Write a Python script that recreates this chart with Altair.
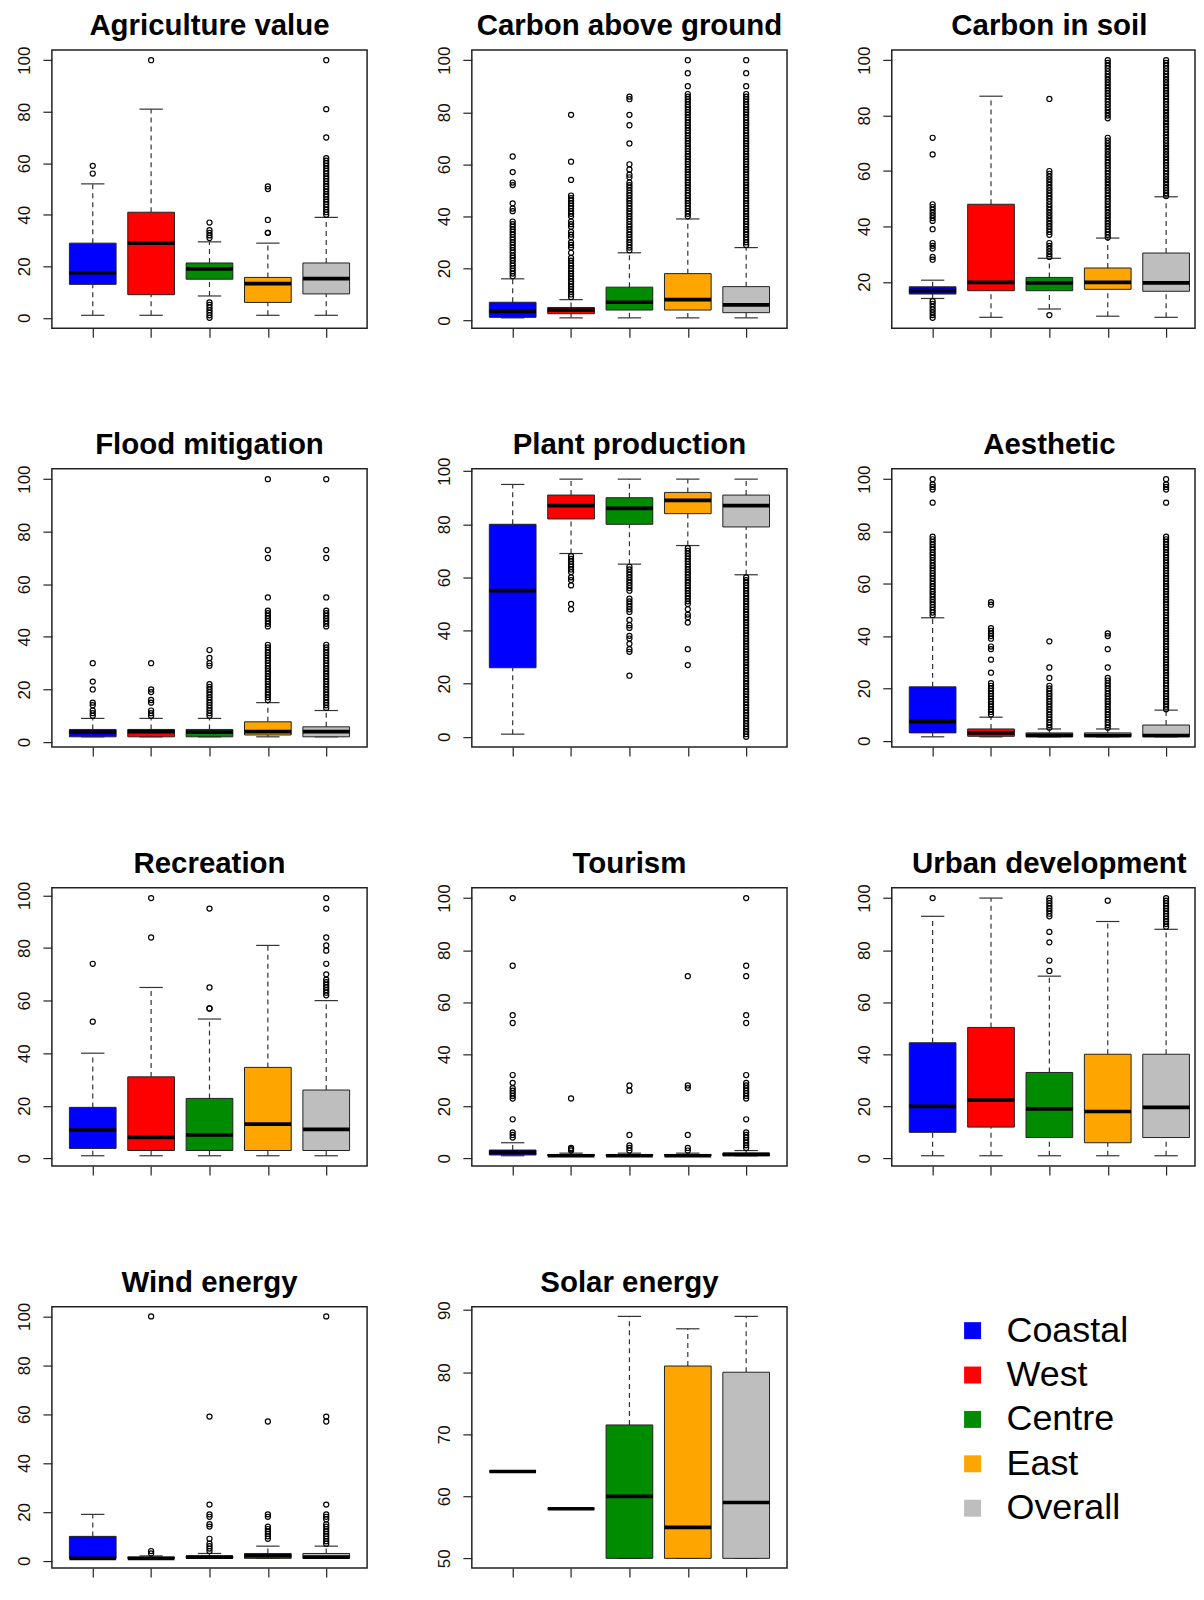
import altair as alt
import pandas as pd

REGIONS = ["Coastal", "West", "Centre", "East", "Overall"]
COLORS = ["#0000FF", "#FF0000", "#008B00", "#FFA500", "#BEBEBE"]

TICKS_0_100 = [0, 20, 40, 60, 80, 100]
TICKS_SOIL = [20, 40, 60, 80, 100]
TICKS_SOLAR = [50, 60, 70, 80, 90]

# stats per region: (lower whisker, Q1, median, Q3, upper whisker)
AGRI_STATS = [(1, 13, 17.5, 29, 52), (1, 9, 29, 41, 81), (8.5, 15, 19, 21.3, 29.5),
              (1, 6, 13.3, 15.7, 29), (1, 9.3, 15.2, 21.3, 39)]
AGRI_OUT = [[56, 59], [100], [0, 1, 2, 3, 4, 5, 6, 31, 32, 33, 34, 37], [33, 33, 38, 50, 51],
            [40, 41, 42, 43, 44, 45, 46, 47, 48, 49, 50, 51, 52, 53, 54, 55, 56, 57, 58, 59, 60, 61, 62, 70, 81, 100]]

CAG_STATS = [(1, 1.2, 3.5, 7, 16), (1, 2.6, 4, 5, 8), (1, 4, 7, 12.8, 26),
             (1, 4, 8, 18, 39), (1, 3, 6, 13, 28)]
CAG_OUT = [
    [17, 18, 19, 20, 21, 22, 23, 24, 25, 26, 27, 28, 29, 30, 31, 32, 33, 34, 35, 36, 37, 38, 42, 43, 45, 52, 53, 57, 63],
    [9, 10, 11, 12, 13, 14, 15, 16, 17, 18, 19, 20, 21, 22, 23, 24, 26, 28, 29, 30, 32, 33, 34, 36, 37, 38, 40,
     41, 42, 43, 44, 45, 46, 47, 48, 54, 61, 79],
    [27, 28, 29, 30, 31, 32, 33, 34, 35, 36, 37, 38, 39, 40, 41, 42, 43, 44, 45, 46, 47, 48, 49, 50, 51, 52, 53,
     55, 56, 58, 60, 68, 75, 79, 85, 86],
    [40, 41, 42, 43, 44, 45, 46, 47, 48, 49, 50, 51, 52, 53, 54, 55, 56, 57, 58, 59, 60, 61, 62, 63, 64, 65, 66,
     67, 68, 69, 70, 71, 72, 73, 74, 75, 76, 77, 78, 79, 80, 81, 82, 83, 84, 85, 86, 87, 90, 95, 100],
    [29, 30, 31, 32, 33, 34, 35, 36, 37, 38, 39, 40, 41, 42, 43, 44, 45, 46, 47, 48, 49, 50, 51, 52, 53, 54, 55,
     56, 57, 58, 59, 60, 61, 62, 63, 64, 65, 66, 67, 68, 69, 70, 71, 72, 73, 74, 75, 76, 77, 78, 79, 80, 81, 82,
     83, 84, 85, 86, 87, 90, 95, 100],
]

CIS_STATS = [(14, 15.6, 16.8, 18.2, 20.6), (7.2, 16.8, 19.8, 48, 87), (10.2, 16.8, 19.6, 21.6, 28.5),
             (7.6, 17.3, 19.8, 25, 35.8), (7.2, 16.6, 19.6, 30.4, 50.7)]
CIS_OUT = [
    [7, 8, 9, 10, 11, 12, 13, 28, 29, 32, 33, 34, 39, 42, 43, 44, 45, 46, 47, 48, 66, 72],
    [],
    [8, 29, 30, 31, 32, 33, 34, 37, 38, 39, 40, 41, 42, 43, 44, 45, 46, 47, 48, 49, 50, 51, 52, 53, 54, 55, 56,
     57, 58, 59, 60, 86],
    [36, 37, 38, 39, 40, 41, 42, 43, 44, 45, 46, 47, 48, 49, 50, 51, 52, 53, 54, 55, 56, 57, 58, 59, 60, 61, 62,
     63, 64, 65, 66, 67, 68, 69, 70, 71, 72, 79, 80, 81, 82, 83, 84, 85, 86, 87, 88, 89, 90, 91, 92, 93, 94, 95,
     96, 97, 98, 99, 100],
    [51, 52, 53, 54, 55, 56, 57, 58, 59, 60, 61, 62, 63, 64, 65, 66, 67, 68, 69, 70, 71, 72, 73, 74, 75, 76, 77,
     78, 79, 80, 81, 82, 83, 84, 85, 86, 87, 88, 89, 90, 91, 92, 93, 94, 95, 96, 97, 98, 99, 100],
]

FLOOD_STATS = [(2, 2, 3.8, 4.8, 9), (2, 2, 4, 4.8, 9), (2, 2, 3.8, 4.8, 9),
               (2, 2.7, 4, 7.7, 15), (2, 2, 4, 5.8, 12)]
FLOOD_OUT = [
    [10, 11, 12, 14, 15, 20, 23, 30],
    [10, 11, 12, 15, 16, 19, 20, 30],
    [10, 11, 12, 13, 14, 15, 16, 17, 18, 19, 20, 21, 22, 29, 30, 32, 35],
    [16, 17, 18, 19, 20, 21, 22, 23, 24, 25, 26, 27, 28, 29, 30, 31, 32, 33, 34, 35, 36, 37, 44, 45, 46, 47, 48,
     49, 50, 55, 70, 73, 100],
    [13, 14, 15, 16, 17, 18, 19, 20, 21, 22, 23, 24, 25, 26, 27, 28, 29, 30, 31, 32, 33, 34, 35, 36, 37, 44, 45,
     46, 47, 48, 49, 50, 55, 70, 73, 100],
]

PLANT_STATS = [(1, 26, 55, 80, 95), (69, 82, 87, 91, 97), (65, 80, 86, 90, 97),
               (72, 84, 89, 92, 97), (61, 79, 87, 91, 97)]
PLANT_OUT = [
    [],
    [48, 50, 57, 59, 60, 62, 63, 64, 65, 66, 67, 68],
    [23, 32, 33, 35, 37, 38, 41, 42, 44, 47, 48, 49, 50, 51, 52, 55, 56, 57, 58, 59, 60, 61, 62, 63, 64],
    [27, 33, 43, 45, 46, 48, 50, 51, 52, 53, 54, 55, 56, 57, 58, 59, 60, 61, 62, 63, 64, 65, 66, 67, 68, 69, 70, 71],
    [0, 1, 2, 3, 4, 5, 6, 7, 8, 9, 10, 11, 12, 13, 14, 15, 16, 17, 18, 19, 20, 21, 22, 23, 24, 25, 26, 27, 28,
     29, 30, 31, 32, 33, 34, 35, 36, 37, 38, 39, 40, 41, 42, 43, 44, 45, 46, 47, 48, 49, 50, 51, 52, 53, 54, 55,
     56, 57, 58, 59, 60],
]

AES_STATS = [(1.5, 3, 7.3, 20.6, 47), (1.5, 1.7, 3, 4.5, 9), (1.5, 1.5, 2, 3, 4.5),
             (1.5, 1.5, 2, 3, 4.5), (1.5, 1.5, 2, 6, 11.7)]
AES_OUT = [
    [48, 49, 50, 51, 52, 53, 54, 55, 56, 57, 58, 59, 60, 61, 62, 63, 64, 65, 66, 67, 68, 69, 70, 71, 72, 73, 74,
     75, 76, 77, 78, 91, 96, 97, 98, 100],
    [10, 11, 12, 13, 14, 15, 16, 17, 18, 19, 20, 21, 22, 26, 31, 35, 36, 39, 40, 41, 42, 43, 52, 53],
    [5, 6, 7, 8, 9, 10, 11, 12, 13, 14, 15, 16, 17, 18, 19, 20, 21, 24, 28, 38],
    [5, 6, 7, 8, 9, 10, 11, 12, 13, 14, 15, 16, 17, 18, 19, 20, 21, 22, 23, 24, 28, 35, 40, 41],
    [12, 13, 14, 15, 16, 17, 18, 19, 20, 21, 22, 23, 24, 25, 26, 27, 28, 29, 30, 31, 32, 33, 34, 35, 36, 37, 38,
     39, 40, 41, 42, 43, 44, 45, 46, 47, 48, 49, 50, 51, 52, 53, 54, 55, 56, 57, 58, 59, 60, 61, 62, 63, 64, 65,
     66, 67, 68, 69, 70, 71, 72, 73, 74, 75, 76, 77, 78, 91, 96, 97, 98, 100],
]

REC_STATS = [(1, 3.8, 10.8, 19.4, 40), (1, 3, 8, 31, 65), (1, 3, 8.9, 22.8, 53),
             (1, 3, 13, 34.6, 81), (1, 3, 11, 26, 60)]
REC_OUT = [[52, 74], [84, 99], [57, 57, 65, 95], [],
           [62, 63, 64, 65, 66, 67, 68, 70, 74, 79, 81, 84, 95, 99]]

TOUR_STATS = [(1, 1.3, 2.3, 3.2, 6), (1, 1, 1, 1.5, 2), (1, 1, 1, 1.5, 2),
              (1, 1, 1, 1.5, 2), (1, 1, 1.5, 2, 3)]
TOUR_OUT = [
    [8, 9, 10, 15, 23, 24, 25, 26, 27, 29, 32, 52, 55, 74, 100],
    [3, 3.5, 4, 23],
    [3, 4, 5, 9, 26, 28],
    [3, 4, 9, 27, 28, 70],
    [4, 5, 6, 7, 8, 9, 10, 15, 23, 24, 25, 26, 27, 28, 29, 32, 52, 55, 70, 74, 100],
]

URB_STATS = [(1, 10, 20, 44.4, 93), (1, 12, 22.4, 50.3, 100), (1, 8, 19, 33, 70),
             (1, 6, 18, 40, 91), (1, 8, 19.6, 40, 88)]
URB_OUT = [[100], [], [72, 76, 83, 87, 93, 94, 95, 96, 97, 98, 99, 100], [99],
           [89, 90, 91, 92, 93, 94, 95, 96, 97, 98, 99, 100]]

WIND_STATS = [(1, 1, 1, 10, 19), (1, 1, 1, 1.5, 2), (1, 1, 1.5, 2, 3),
              (1, 1, 2, 3, 6), (1, 1, 1.5, 3, 6)]
WIND_OUT = [[], [3, 4, 100], [4, 5, 6, 7, 9, 14, 15, 18, 19, 23, 59],
            [9, 10, 11, 12, 13, 14, 18, 19, 57],
            [7, 8, 9, 10, 11, 12, 13, 14, 15, 17, 18, 19, 23, 57, 59, 100]]

SOLAR_STATS = [(64, 64, 64, 64, 64), (58, 58, 58, 58, 58), (50, 50, 60, 71.5, 89),
               (50, 50, 55, 81, 87), (50, 50, 59, 80, 89)]
SOLAR_OUT = [[], [], [], [], []]

PANELS = [
    ("Agriculture value", AGRI_STATS, AGRI_OUT, TICKS_0_100),
    ("Carbon above ground", CAG_STATS, CAG_OUT, TICKS_0_100),
    ("Carbon in soil", CIS_STATS, CIS_OUT, TICKS_SOIL),
    ("Flood mitigation", FLOOD_STATS, FLOOD_OUT, TICKS_0_100),
    ("Plant production", PLANT_STATS, PLANT_OUT, TICKS_0_100),
    ("Aesthetic", AES_STATS, AES_OUT, TICKS_0_100),
    ("Recreation", REC_STATS, REC_OUT, TICKS_0_100),
    ("Tourism", TOUR_STATS, TOUR_OUT, TICKS_0_100),
    ("Urban development", URB_STATS, URB_OUT, TICKS_0_100),
    ("Wind energy", WIND_STATS, WIND_OUT, TICKS_0_100),
    ("Solar energy", SOLAR_STATS, SOLAR_OUT, TICKS_SOLAR),
]

W = 316               # full panel plot width
H = 279               # panel plot height
H_LAST = 262          # last row, trimmed so the page is not taller than the window
W_RIGHT = 304         # right column is cut by the page edge, like the original picture
X_LO, X_HI = 0.3, 5.7
FONT = "Liberation Sans"
color_scale = alt.Scale(domain=REGIONS, range=COLORS)


def make_panel(title, stats, outs, ticks, col, height):
    width = W if col < 2 else W_RIGHT
    x_hi = X_LO + (X_HI - X_LO) * width / W
    srows = []
    for i, (reg, st) in enumerate(zip(REGIONS, stats)):
        lo, q1, med, q3, hi = st
        srows.append(dict(region=reg, pos=i + 1, lo=lo, q1=q1, med=med, q3=q3, hi=hi))
    sdf = pd.DataFrame(srows)
    orows = [dict(region=REGIONS[i], pos=i + 1, v=v) for i, lst in enumerate(outs) for v in lst]
    odf = pd.DataFrame(orows, columns=["region", "pos", "v"])

    vals = [s[0] for s in stats] + [s[4] for s in stats] + [v for lst in outs for v in lst]
    vmin, vmax = min(vals), max(vals)
    ext = 0.04 * (vmax - vmin)
    yscale = alt.Scale(domain=[vmin - ext, vmax + ext], nice=False, zero=False)
    xscale = alt.Scale(domain=[X_LO, x_hi], nice=False, zero=False)
    xaxis = alt.Axis(values=[1, 2, 3, 4, 5], labels=False, tickSize=9, domain=False, grid=False,
                     title=None, tickColor="#222", tickWidth=1.2)
    yaxis = alt.Axis(values=ticks, labelAngle=270, labelAlign="center", labelBaseline="alphabetic",
                     labelPadding=13, labelFontSize=17, labelFont=FONT, labelColor="#111",
                     tickSize=9, tickColor="#222", tickWidth=1.2, domain=False, grid=False, title=None)

    def X(f):
        return alt.X(f"{f}:Q", scale=xscale, axis=xaxis)

    def Y(f):
        return alt.Y(f"{f}:Q", scale=yscale, axis=yaxis)

    base = alt.Chart(sdf).transform_calculate(
        xl="datum.pos - 0.4", xr="datum.pos + 0.4", cl="datum.pos - 0.2", cr="datum.pos + 0.2")

    whisk_up = base.mark_rule(color="#333", strokeWidth=1.2, strokeDash=[5, 4]).encode(
        x=X("pos"), y=Y("q3"), y2="hi")
    whisk_lo = base.mark_rule(color="#333", strokeWidth=1.2, strokeDash=[5, 4]).encode(
        x=X("pos"), y=Y("lo"), y2="q1")
    cap_hi = base.mark_rule(color="#333", strokeWidth=1.2).encode(x=X("cl"), x2="cr", y=Y("hi"))
    cap_lo = base.mark_rule(color="#333", strokeWidth=1.2).encode(x=X("cl"), x2="cr", y=Y("lo"))
    box = base.mark_rect(stroke="#222", strokeWidth=1, opacity=1).encode(
        x=X("xl"), x2="xr", y=Y("q1"), y2="q3",
        color=alt.Color("region:N", scale=color_scale, legend=None))
    med = base.mark_rule(color="black", strokeWidth=3.7).encode(x=X("xl"), x2="xr", y=Y("med"))
    pts = alt.Chart(odf).mark_point(shape="circle", filled=False, color="black", size=26,
                                    strokeWidth=1.2, opacity=1).encode(x=X("pos"), y=Y("v"))
    ttl = alt.Chart(pd.DataFrame({"t": [title]})).mark_text(
        fontSize=29.5, font=FONT, fontWeight="bold", color="black", align="center",
        baseline="alphabetic").encode(x=alt.value(W / 2), y=alt.value(-15), text="t:N")

    return alt.layer(whisk_up, whisk_lo, cap_hi, cap_lo, box, med, pts, ttl).properties(
        width=width, height=height)


def make_legend(height):
    ldf = pd.DataFrame({"region": REGIONS})
    ly = alt.Y("region:N", scale=alt.Scale(type="point", domain=REGIONS, range=[24, 202], padding=0),
               axis=None)
    sq = alt.Chart(ldf).mark_square(size=289, opacity=1).encode(
        x=alt.value(81), y=ly, color=alt.Color("region:N", scale=color_scale, legend=None))
    tx = alt.Chart(ldf).mark_text(align="left", baseline="middle", fontSize=36, font=FONT,
                                  color="black").encode(x=alt.value(115), y=ly, text="region:N")
    return alt.layer(sq, tx).properties(width=W_RIGHT, height=height,
                                        view=alt.ViewBackground(stroke=None))


panels = [make_panel(*p, col=i % 3, height=(H if i < 9 else H_LAST)) for i, p in enumerate(PANELS)]
panels.append(make_legend(H_LAST))
chart = alt.concat(*panels, columns=3, spacing=alt.RowColnumber(row=141, column=105),
                   bounds="flush").properties(
    padding={"left": 7, "top": 0, "right": 0, "bottom": 0}, background="white"
).configure_view(stroke="#222", strokeWidth=1.5)

chart.save("out.html", embed_options={"renderer": "svg", "actions": False})
